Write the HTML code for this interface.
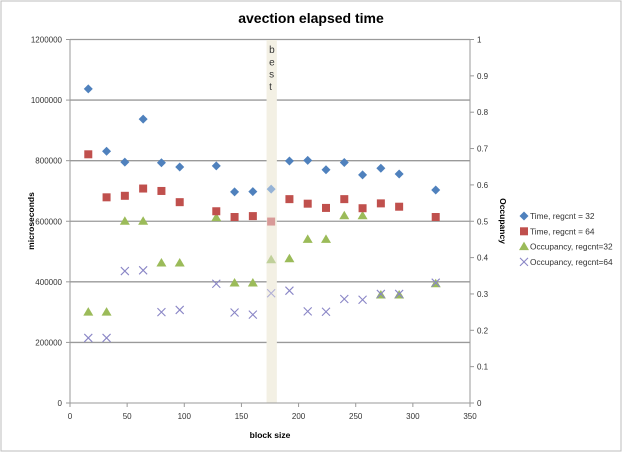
<!DOCTYPE html>
<html><head><meta charset="utf-8">
<style>
html,body{margin:0;padding:0;background:#fff;}
svg{display:block;font-family:"Liberation Sans",sans-serif;}
</style></head>
<body>
<svg id="chart" width="623" height="453">
<rect x="1" y="1" width="620" height="450" fill="#fff" stroke="#bdbdbd"/>
<text x="311" y="23" text-anchor="middle" font-size="14" font-weight="bold" fill="#000">avection elapsed time</text>
<g id="grid"></g>
<rect id="best" fill="#f3f0e4"/>
<g id="bestTxt" font-size="10" fill="#333"></g>
<g id="axes"></g>
<g id="marks"></g>
<text transform="translate(34,221) rotate(-90)" text-anchor="middle" font-size="8.5" font-weight="bold">microseconds</text>
<text transform="translate(500,221) rotate(90)" text-anchor="middle" font-size="8.5" font-weight="bold">Occupancy</text>
<text x="270" y="438" text-anchor="middle" font-size="8.5" font-weight="bold">block size</text>
<g id="legend" font-size="8.3" fill="#333"></g>
</svg>
<script>
const blockSizes=[16,32,48,64,80,96,128,144,160,176,192,208,224,240,256,272,288,320];
const time32=[1037000,831000,795000,937000,793000,779000,783000,697000,698000,706000,799000,801000,770000,794000,753000,775000,756000,703000];
const time64=[821000,679000,684000,708000,700000,663000,633000,614000,617000,599000,673000,658000,644000,673000,643000,659000,648000,614000];
const occ32=[0.25,0.25,0.5,0.5,0.385,0.385,0.51,0.33,0.33,0.394,0.397,0.45,0.45,0.515,0.515,0.297,0.297,0.328];
const occ64=[0.179,0.179,0.363,0.365,0.25,0.256,0.328,0.249,0.243,0.302,0.309,0.252,0.251,0.286,0.284,0.3,0.3,0.331];
const xTicks=[0,50,100,150,200,250,300,350];
const yTicks=[0,200000,400000,600000,800000,1000000,1200000];
const y2Ticks=[0,0.1,0.2,0.3,0.4,0.5,0.6,0.7,0.8,0.9,1];
const bestRange=[172,181];
const bestX=176;

const L=70,R=470,T=39.5,B=403;
const sx=v=>L+(v/350)*(R-L);
const sy=v=>B-(v/1200000)*(B-T);
const sy2=v=>B-v*(B-T);
const NS="http://www.w3.org/2000/svg";
function mk(tag,attrs,parent){const e=document.createElementNS(NS,tag);for(const k in attrs)e.setAttribute(k,attrs[k]);parent.appendChild(e);return e;}
const grid=document.getElementById('grid'),axes=document.getElementById('axes'),marks=document.getElementById('marks'),legend=document.getElementById('legend');

yTicks.forEach(t=>{
  if(t>0){const g=mk('line',{x1:L,x2:R,y1:sy(t),y2:sy(t),stroke:'#9a9a9a','stroke-width':1.3},grid);
  
  }
  const tk=mk('line',{x1:L-4,x2:L,y1:sy(t),y2:sy(t),stroke:'#999'},axes);
  
  
  const tx=mk('text',{x:L-8,y:sy(t)+3,'text-anchor':'end','font-size':8,fill:'#333'},axes);
  tx.textContent=t;
  
  
});
y2Ticks.forEach(t=>{
  const tk=mk('line',{x1:R,x2:R+4,y1:sy2(t),y2:sy2(t),stroke:'#999'},axes);
  
  
  const tx=mk('text',{x:R+7,y:sy2(t)+3,'font-size':8,fill:'#333'},axes);
  tx.textContent=t;
  
  
});
xTicks.forEach(t=>{
  const tk=mk('line',{x1:sx(t),x2:sx(t),y1:B,y2:B+4,stroke:'#999'},axes);
  
  
  const tx=mk('text',{x:sx(t),y:B+16,'text-anchor':'middle','font-size':8,fill:'#333'},axes);
  tx.textContent=t;
  
  
});
[[L,T,L,B],[R,T,R,B],[L,B,R,B],[L,T,R,T]].forEach(a=>{
  const l=mk('line',{x1:a[0],y1:a[1],x2:a[2],y2:a[3],stroke:'#9a9a9a'},axes);
  
  
});
const best=document.getElementById('best');
best.setAttribute('x',sx(bestRange[0]));best.setAttribute('y',T);
best.setAttribute('width',sx(bestRange[1])-sx(bestRange[0]));best.setAttribute('height',B-T);
const bt=document.getElementById('bestTxt');
['b','e','s','t'].forEach((c,i)=>{const t=mk('text',{x:sx(bestX)-2,y:53+i*12.3},bt);t.textContent=c;});

function diamond(x,y,c,p){return mk('path',{d:`M${x} ${y-4.5}L${x+4.5} ${y}L${x} ${y+4.5}L${x-4.5} ${y}Z`,fill:c},p);}
function square(x,y,c,p){return mk('rect',{x:x-4,y:y-4,width:8,height:8,fill:c},p);}
function tri(x,y,c,p){return mk('path',{d:`M${x} ${y-5}L${x+5} ${y+3.5}L${x-5} ${y+3.5}Z`,fill:c},p);}
function cross(x,y,c,p){return mk('path',{d:`M${x-4} ${y-4}L${x+4} ${y+4}M${x+4} ${y-4}L${x-4} ${y+4}`,stroke:c,'stroke-width':1.1,fill:'none'},p);}
const fade=(i,c,f)=>blockSizes[i]===bestX?f:c;
blockSizes.forEach((b,i)=>{
  let e=tri(sx(b),sy2(occ32[i]),fade(i,'#9bbb59','#c0d09a'),marks);
  
  
  e=cross(sx(b),sy2(occ64[i]),fade(i,'#8a86c6','#b0aed6'),marks);
  
  
  e=square(sx(b),sy(time64[i]),fade(i,'#c0504d','#d89a98'),marks);
  
  
  e=diamond(sx(b),sy(time32[i]),fade(i,'#4f81bd','#96b3d6'),marks);
  
  
});
const leg=[['Time, regcnt = 32',diamond,'#4f81bd'],['Time, regcnt = 64',square,'#c0504d'],['Occupancy, regcnt=32',tri,'#9bbb59'],['Occupancy, regcnt=64',cross,'#8a86c6']];
leg.forEach((l,i)=>{
  const y=216+i*15.3;
  const g=mk('g',{},legend);
  
  
  l[1](524,y,l[2],g);
  const t=mk('text',{x:530,y:y+3},g);t.textContent=l[0];
});
</script>
</body></html>
